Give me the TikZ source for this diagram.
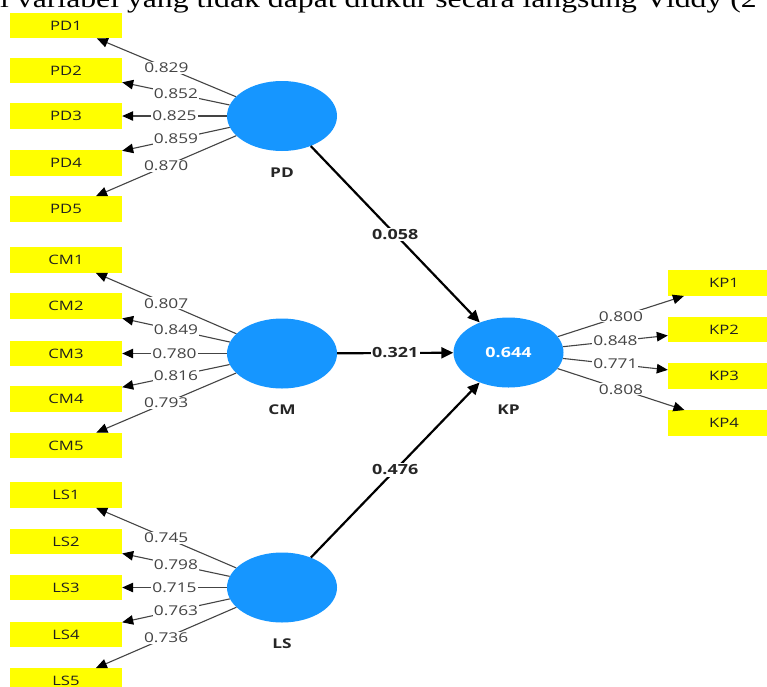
\documentclass[tikz,border=0pt]{standalone}
\usepackage{fontspec}
\usetikzlibrary{shapes.geometric,arrows.meta}
\newfontfamily\lblfont[FakeStretch=1.28]{Open Sans}
\newfontfamily\topfont[FakeStretch=1.22]{Liberation Serif}
\definecolor{lvblue}{RGB}{22,150,255}
\definecolor{indyellow}{RGB}{255,255,0}
\definecolor{ldgray}{RGB}{68,68,68}
\begin{document}
\begin{tikzpicture}[x=1pt,y=-1pt,
 latent/.style={ellipse, fill=lvblue, minimum width=110pt, minimum height=70pt, inner sep=0pt},
 indbox/.style={rectangle, fill=indyellow, minimum width=112pt, minimum height=25.5pt, inner sep=0pt, text=black!88, font=\lblfont\fontsize{13}{15}\selectfont},
 loadline/.style={draw=ldgray, line width=1.1pt, -{Triangle[length=11pt,width=9.5pt,color=black]}},
 loadlbl/.style={fill=white, inner sep=1pt, text=ldgray, font=\lblfont\fontsize{13.5}{15}\selectfont},
 pathline/.style={draw=black, line width=2.2pt, -{Triangle[length=12pt,width=11pt]}},
 pathlbl/.style={fill=white, inner sep=1.5pt, text=black!85, font=\lblfont\bfseries\fontsize{14}{16}\selectfont},
 lvname/.style={text=black!85, font=\lblfont\bfseries\fontsize{13.5}{16}\selectfont}
]
\clip (0,0) rectangle (767,686);
\fill[white] (0,0) rectangle (767,686);

\node[anchor=base west, inner sep=0pt, font=\topfont\fontsize{26}{30}\selectfont] (toptxt) at (0,7.5) {i variabel yang tidak dapat diukur secara langsung Viddy (2};

% latent variables
\node[latent] (PD) at (282,116) {};
\node[latent] (CM) at (282,353.5) {};
\node[latent] (LS) at (282,587.5) {};
\node[latent, text=white, font=\lblfont\bfseries\fontsize{14}{16}\selectfont] (KP) at (508.5,352.5) {0.644};

\node[lvname] (PDn) at (282,173) {PD};
\node[lvname] (CMn) at (282,410) {CM};
\node[lvname] (LSn) at (282,644) {LS};
\node[lvname] (KPn) at (508.5,410) {KP};

% indicators
\node[indbox] (PD1) at (66,25.5) {PD1};
\node[indbox] (PD2) at (66,70.5) {PD2};
\node[indbox] (PD3) at (66,116) {PD3};
\node[indbox] (PD4) at (66,163) {PD4};
\node[indbox] (PD5) at (66,209) {PD5};

\node[indbox] (CM1) at (66,260) {CM1};
\node[indbox] (CM2) at (66,306) {CM2};
\node[indbox] (CM3) at (66,353.5) {CM3};
\node[indbox] (CM4) at (66,399) {CM4};
\node[indbox] (CM5) at (66,445.5) {CM5};

\node[indbox] (LS1) at (66,495) {LS1};
\node[indbox] (LS2) at (66,541.5) {LS2};
\node[indbox] (LS3) at (66,587.5) {LS3};
\node[indbox] (LS4) at (66,634.5) {LS4};
\node[indbox] (LS5) at (66,681) {LS5};

\node[indbox] (KP1) at (724,283) {KP1};
\node[indbox] (KP2) at (724,329.5) {KP2};
\node[indbox] (KP3) at (724,376) {KP3};
\node[indbox] (KP4) at (724,423) {KP4};

% loadings
\draw[loadline] (PD) -- node[loadlbl]{0.829} (PD1);
\draw[loadline] (PD) -- node[loadlbl]{0.852} (PD2);
\draw[loadline] (PD) -- node[loadlbl]{0.825} (PD3);
\draw[loadline] (PD) -- node[loadlbl]{0.859} (PD4);
\draw[loadline] (PD) -- node[loadlbl]{0.870} (PD5);

\draw[loadline] (CM) -- node[loadlbl]{0.807} (CM1);
\draw[loadline] (CM) -- node[loadlbl]{0.849} (CM2);
\draw[loadline] (CM) -- node[loadlbl]{0.780} (CM3);
\draw[loadline] (CM) -- node[loadlbl]{0.816} (CM4);
\draw[loadline] (CM) -- node[loadlbl]{0.793} (CM5);

\draw[loadline] (LS) -- node[loadlbl]{0.745} (LS1);
\draw[loadline] (LS) -- node[loadlbl]{0.798} (LS2);
\draw[loadline] (LS) -- node[loadlbl]{0.715} (LS3);
\draw[loadline] (LS) -- node[loadlbl]{0.763} (LS4);
\draw[loadline] (LS) -- node[loadlbl]{0.736} (LS5);

\draw[loadline] (KP) -- node[loadlbl]{0.800} (KP1);
\draw[loadline] (KP) -- node[loadlbl]{0.848} (KP2);
\draw[loadline] (KP) -- node[loadlbl]{0.771} (KP3);
\draw[loadline] (KP) -- node[loadlbl]{0.808} (KP4);

% paths
\draw[pathline] (PD) -- node[pathlbl]{0.058} (KP);
\draw[pathline] (CM) -- node[pathlbl]{0.321} (KP);
\draw[pathline] (LS) -- node[pathlbl]{0.476} (KP);
\end{tikzpicture}
\end{document}
